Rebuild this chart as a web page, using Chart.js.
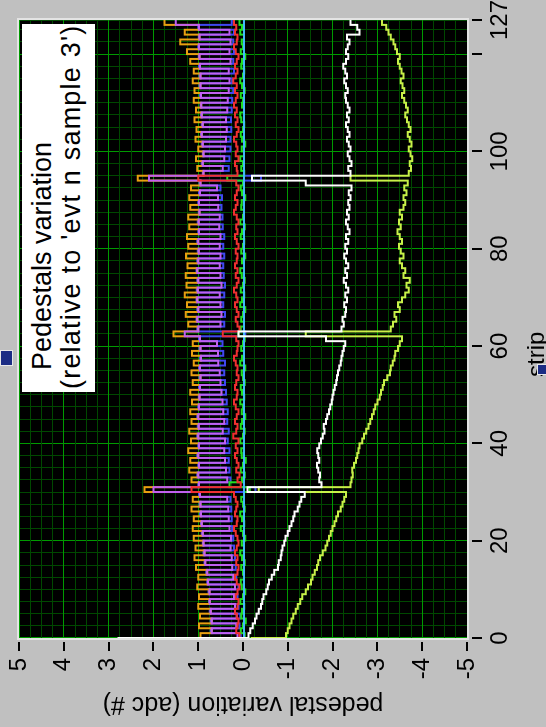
<!DOCTYPE html>
<html>
<head>
<meta charset="utf-8">
<script src="https://cdn.jsdelivr.net/npm/chart.js@4"></script>
<style>
body{margin:0;background:#c0c0c0;overflow:hidden;width:546px;height:727px}
#wrap{position:absolute;left:0;top:0;width:727px;height:546px;transform-origin:0 0;transform:translateY(727px) rotate(-90deg)}
#note{position:absolute;left:335px;top:22px;width:368px;height:73px;background:#fff;box-sizing:border-box;padding:6px 0 0 3px;font:27px "Liberation Sans",Arial,sans-serif;line-height:29px;color:#000;white-space:nowrap}
#note .l1{padding-left:19px}
#note .l2{letter-spacing:1.2px}
#xname{position:absolute;left:350px;top:522px;font:24px "Liberation Sans",Arial,sans-serif;color:#000}
.knob{position:absolute;background:#1c2c84;border:1px solid #e8e8e8}
</style>
</head>
<body>
<div id="wrap">
<canvas id="chart" width="727" height="546"></canvas>
<div id="note"><div class="l1">Pedestals variation</div><div class="l2">(relative to 'evt n sample 3')</div></div>
<div id="xname">strip</div>
</div>
<div class="knob" style="left:0;top:350px;width:11px;height:14px"></div>
<div class="knob" style="left:537px;top:364px;width:10px;height:9px"></div>
<script>
// axis ticks
const stripLabels = [0, 20, 40, 60, 80, 100, 127];
const stripMarks = [0, 20, 40, 60, 80, 100, 120, 127];
const valueLabels = [5, 4, 3, 2, 1, 0, -1, -2, -3, -4, -5];

// pedestal variation per strip (0..127)
const orange = [
0.68,0.95,0.70,0.98,0.70,0.96,0.72,1.00,0.74,0.98,0.75,1.02,0.78,1.00,0.80,1.05,
0.84,1.08,0.86,1.06,0.88,1.10,0.90,1.12,0.92,1.10,0.94,1.15,0.95,1.12,0.96,2.20,
0.98,1.15,1.00,1.20,0.98,1.18,1.00,1.22,0.98,1.16,1.00,1.20,0.99,1.15,1.00,1.18,
0.98,1.14,0.97,1.18,0.96,1.12,0.95,1.15,0.96,1.10,0.94,1.14,0.95,1.12,0.96,1.55,
1.00,1.22,1.02,1.28,1.00,1.25,1.02,1.30,1.01,1.26,1.00,1.28,1.02,1.24,1.00,1.27,
0.99,1.22,1.00,1.25,0.98,1.20,0.99,1.22,0.97,1.18,0.98,1.20,0.96,1.16,0.95,2.35,
0.88,1.02,0.90,1.05,0.88,1.00,0.90,1.06,0.92,1.04,0.90,1.08,0.92,1.05,0.93,1.10,
0.94,1.08,0.95,1.12,0.95,1.10,0.96,1.18,0.97,1.25,0.98,1.40,0.97,1.30,0.98,1.75
];
const purple = [
0.68,0.12,0.70,0.15,0.70,0.14,0.72,0.18,0.74,0.20,0.75,0.18,0.78,0.22,0.80,0.24,
0.84,0.25,0.86,0.28,0.88,0.27,0.90,0.30,0.92,0.32,0.94,0.33,0.95,0.35,0.96,2.00,
0.98,0.35,1.00,0.38,0.98,0.40,1.00,0.42,0.98,0.40,1.00,0.45,0.99,0.42,1.00,0.44,
0.98,0.46,0.97,0.48,0.96,0.50,0.95,0.52,0.96,0.55,0.94,0.56,0.95,0.58,0.96,1.30,
1.00,0.50,1.02,0.48,1.00,0.50,1.02,0.52,1.01,0.48,1.00,0.50,1.02,0.52,1.00,0.50,
0.99,0.52,1.00,0.50,0.98,0.53,0.99,0.52,0.97,0.55,0.98,0.56,0.96,0.58,0.95,2.10,
0.88,0.45,0.90,0.42,0.88,0.40,0.90,0.38,0.92,0.36,0.90,0.38,0.92,0.35,0.93,0.34,
0.94,0.32,0.95,0.30,0.95,0.32,0.96,0.28,0.97,0.30,0.98,0.28,0.97,0.30,0.98,1.50
];
const blue = [
0.70,0.05,0.72,0.08,0.72,0.06,0.74,0.10,0.76,0.12,0.77,0.10,0.80,0.15,0.82,0.16,
0.86,0.18,0.88,0.20,0.90,0.22,0.92,0.24,0.94,0.25,0.96,0.26,0.97,0.28,0.98,-0.28,
1.00,0.28,1.02,0.30,1.00,0.32,1.02,0.30,1.00,0.34,1.02,0.32,1.01,0.35,1.02,0.34,
1.00,0.36,0.99,0.38,0.98,0.40,0.97,0.42,0.98,0.40,0.96,0.44,0.97,0.46,0.98,-0.05,
1.02,0.42,1.04,0.40,1.02,0.44,1.04,0.42,1.03,0.40,1.02,0.43,1.04,0.44,1.02,0.42,
1.01,0.44,1.02,0.42,1.00,0.45,1.01,0.46,0.99,0.48,1.00,0.47,0.98,0.50,0.97,-0.40,
0.90,0.32,0.92,0.30,0.90,0.28,0.92,0.28,0.94,0.26,0.92,0.27,0.94,0.25,0.95,0.24,
0.96,0.22,0.97,0.24,0.97,0.20,0.98,0.22,0.99,0.20,1.00,0.22,0.99,0.20,1.00,0.25
];
const red = [
0.10,0.08,0.15,0.12,0.10,0.14,0.18,0.12,0.10,0.16,0.12,0.08,0.14,0.18,0.12,0.10,
0.15,0.12,0.18,0.14,0.10,0.12,0.16,0.20,0.14,0.12,0.18,0.15,0.12,0.16,0.20,1.15,
0.05,0.12,0.08,0.15,0.10,0.14,0.18,0.12,0.16,0.10,0.22,0.15,0.12,0.18,0.14,0.10,
0.16,0.20,0.14,0.12,0.18,0.15,0.10,0.14,0.12,0.16,0.20,0.14,0.12,0.10,0.15,0.45,
0.08,0.12,0.16,0.10,0.14,0.18,0.12,0.15,0.20,0.14,0.10,0.16,0.12,0.18,0.14,0.12,
0.16,0.10,0.14,0.18,0.12,0.15,0.10,0.14,0.20,0.16,0.12,0.18,0.14,0.10,0.15,1.00,
0.12,0.14,0.18,0.10,0.16,0.12,0.15,0.20,0.14,0.10,0.16,0.12,0.18,0.14,0.20,0.16,
0.12,0.18,0.14,0.22,0.16,0.12,0.18,0.14,0.10,0.16,0.20,0.14,0.12,0.18,0.15,0.20
];
const green = [
0.02,-0.04,0.05,0.00,-0.06,0.04,0.02,-0.03,0.06,0.00,-0.05,0.03,0.05,-0.02,0.00,0.04,
-0.04,0.02,0.06,-0.02,0.03,-0.05,0.00,0.05,-0.03,0.02,0.06,-0.04,0.00,0.04,-0.02,-0.15,
0.30,0.02,-0.04,0.05,0.00,-0.06,0.03,0.04,-0.02,0.06,0.00,-0.04,0.05,0.02,-0.05,0.03,
0.00,0.06,-0.03,0.02,0.05,-0.04,0.00,0.03,-0.05,0.06,0.02,-0.02,0.04,0.00,-0.04,0.10,
0.05,-0.02,0.04,0.00,-0.05,0.06,0.02,-0.03,0.05,0.00,-0.04,0.03,0.06,-0.02,0.02,-0.05,
0.04,0.00,-0.03,0.05,0.02,-0.04,0.06,0.00,-0.02,0.04,0.03,-0.05,0.02,0.05,0.00,0.35,
-0.03,0.04,0.00,0.06,-0.02,0.03,-0.05,0.02,0.05,0.00,-0.03,0.04,0.06,-0.02,0.02,0.00,
0.05,-0.04,0.02,0.06,0.00,-0.03,0.04,0.02,-0.05,0.05,0.00,0.03,-0.02,0.06,0.02,0.08
];
const cyan = [
-0.02,-0.02,-0.02,-0.02,-0.02,-0.02,-0.02,-0.02,-0.02,-0.02,-0.02,-0.02,-0.02,-0.02,-0.02,-0.02,
-0.02,-0.02,-0.02,-0.02,-0.02,-0.02,-0.02,-0.02,-0.02,-0.02,-0.02,-0.02,-0.02,-0.02,-0.02,-0.02,
-0.02,-0.02,-0.02,-0.02,-0.02,-0.02,-0.02,-0.02,-0.02,-0.02,-0.02,-0.02,-0.02,-0.02,-0.02,-0.02,
-0.02,-0.02,-0.02,-0.02,-0.02,-0.02,-0.02,-0.02,-0.02,-0.02,-0.02,-0.02,-0.02,-0.02,-0.02,-0.02,
-0.02,-0.02,-0.02,-0.02,-0.02,-0.02,-0.02,-0.02,-0.02,-0.02,-0.02,-0.02,-0.02,-0.02,-0.02,-0.02,
-0.02,-0.02,-0.02,-0.02,-0.02,-0.02,-0.02,-0.02,-0.02,-0.02,-0.02,-0.02,-0.02,-0.02,-0.02,-0.02,
-0.02,-0.02,-0.02,-0.02,-0.02,-0.02,-0.02,-0.02,-0.02,-0.02,-0.02,-0.02,-0.02,-0.02,-0.02,-0.02,
-0.02,-0.02,-0.02,-0.02,-0.02,-0.02,-0.02,-0.02,-0.02,-0.02,-0.02,-0.02,-0.02,-0.02,-0.02,-0.02
];
const white = [
2.80,-0.12,-0.16,-0.22,-0.27,-0.30,-0.35,-0.40,-0.43,-0.46,-0.52,-0.55,-0.58,-0.64,-0.70,-0.78,
-0.80,-0.84,-0.86,-0.88,-0.92,-0.95,-1.00,-1.04,-1.08,-1.12,-1.15,-1.22,-1.26,-1.30,-1.38,-0.10,
-1.75,-1.70,-1.72,-1.68,-1.65,-1.70,-1.68,-1.66,-1.70,-1.74,-1.78,-1.82,-1.80,-1.85,-1.88,-1.92,
-1.95,-1.98,-2.00,-2.02,-2.05,-2.08,-2.10,-2.12,-2.15,-2.18,-2.20,-2.22,-2.25,-2.28,-1.85,0.10,
-2.20,-2.25,-2.22,-2.28,-2.30,-2.26,-2.32,-2.28,-2.35,-2.30,-2.25,-2.32,-2.28,-2.35,-2.30,-2.26,
-2.32,-2.28,-2.35,-2.30,-2.38,-2.34,-2.30,-2.36,-2.32,-2.38,-2.35,-2.40,-2.36,-2.42,-1.40,-0.20,
-2.40,-2.35,-2.42,-2.38,-2.34,-2.40,-2.36,-2.32,-2.38,-2.34,-2.30,-2.36,-2.32,-2.38,-2.34,-2.30,
-2.28,-2.34,-2.30,-2.26,-2.32,-2.28,-2.24,-2.30,-2.35,-2.30,-2.34,-2.38,-2.32,-2.60,-2.55,-2.40
];
const yellow = [
-0.18,-0.96,-1.00,-1.04,-1.08,-1.12,-1.18,-1.22,-1.28,-1.32,-1.40,-1.45,-1.52,-1.55,-1.60,-1.65,
-1.68,-1.72,-1.78,-1.84,-1.88,-1.92,-1.96,-2.00,-2.04,-2.08,-2.12,-2.18,-2.22,-2.26,-2.30,-0.35,
-2.40,-2.42,-2.45,-2.44,-2.48,-2.52,-2.55,-2.58,-2.60,-2.66,-2.70,-2.75,-2.80,-2.84,-2.88,-2.92,
-2.95,-3.00,-3.05,-3.08,-3.12,-3.15,-3.22,-3.28,-3.30,-3.34,-3.38,-3.40,-3.46,-3.50,-3.55,-1.40,
-3.30,-3.35,-3.42,-3.38,-3.50,-3.46,-3.55,-3.62,-3.70,-3.65,-3.72,-3.58,-3.62,-3.55,-3.50,-3.58,
-3.52,-3.48,-3.55,-3.50,-3.45,-3.52,-3.48,-3.55,-3.50,-3.58,-3.62,-3.58,-3.65,-3.60,-3.68,-2.40,
-3.70,-3.75,-3.72,-3.78,-3.74,-3.70,-3.76,-3.72,-3.68,-3.74,-3.70,-3.66,-3.62,-3.68,-3.64,-3.60,
-3.55,-3.60,-3.56,-3.52,-3.58,-3.54,-3.50,-3.46,-3.50,-3.44,-3.40,-3.36,-3.30,-3.25,-3.20,-3.10
];

const series = [
  {data: white, color: "#ffffff"},
  {data: yellow, color: "#c8f048"},
  {data: cyan, color: "#40b8f8"},
  {data: red, color: "#f03030"},
  {data: green, color: "#20e020"},
  {data: purple, color: "#c060f0"},
  {data: orange, color: "#e8a010"},
  {data: blue, color: "#4048f0"}
];

const font = {family: "'Liberation Sans', Arial, sans-serif", size: 24};

const plotFrame = {
  id: "plotFrame",
  beforeDraw(chart){
    const {ctx, chartArea: a} = chart;
    ctx.save();
    ctx.fillStyle = "#000";
    ctx.fillRect(a.left, a.top, a.width, a.height);
    ctx.restore();
  },
  afterDraw(chart){
    const {ctx, chartArea: a, scales} = chart;
    ctx.save();
    ctx.strokeStyle = "#e4e4e4";
    ctx.lineWidth = 2;
    ctx.strokeRect(a.left - 1, a.top - 1, a.width + 2, a.height + 2);
    ctx.strokeStyle = "#000";
    ctx.lineWidth = 2;
    ctx.beginPath();
    stripMarks.forEach(s=>{
      const x = Math.round(scales.x.getPixelForValue(s));
      ctx.moveTo(x, a.bottom + 5);
      ctx.lineTo(x, a.bottom + 15);
    });
    valueLabels.forEach(v=>{
      const y = Math.round(scales.y.getPixelForValue(v));
      ctx.moveTo(a.left - 13, y);
      ctx.lineTo(a.left - 4, y);
    });
    ctx.stroke();
    ctx.restore();
  }
};

new Chart(document.getElementById("chart"), {
  type: "line",
  data: {
    datasets: series.map(s=>({
      data: s.data.map((v,i)=>({x: i, y: v})),
      borderColor: s.color,
      borderWidth: 2,
      pointRadius: 0,
      stepped: "after",
      fill: false
    }))
  },
  options: {
    responsive: false,
    animation: false,
    devicePixelRatio: 1,
    layout: {padding: {top: 19, right: 20, left: 0, bottom: 0}},
    plugins: {legend: {display: false}, tooltip: {enabled: false}},
    scales: {
      x: {
        type: "linear",
        min: 0,
        max: 127,
        afterBuildTicks(scale){
          const t = [];
          for (let v = 0; v <= 125; v += 2.5) t.push({value: v});
          t.push({value: 127});
          scale.ticks = t;
        },
        afterFit(scale){ scale.height = 79; },
        ticks: {
          autoSkip: false,
          maxRotation: 0,
          padding: 0,
          color: "#000",
          font: font,
          callback: v => stripLabels.includes(v) ? String(v) : ""
        },
        grid: {
          drawTicks: true,
          tickLength: 19,
          tickColor: "rgba(0,0,0,0)",
          lineWidth: 1,
          color: c => (c.tick && c.tick.value % 20 === 0) ? "#009a00" : "#004800"
        },
        border: {display: false}
      },
      y: {
        type: "linear",
        min: -5,
        max: 5,
        afterBuildTicks(scale){
          const t = [];
          for (let v = -5; v <= 5; v += 0.25) t.push({value: v});
          scale.ticks = t;
        },
        afterFit(scale){ scale.width = 89; },
        ticks: {
          autoSkip: false,
          padding: 0,
          color: "#000",
          font: font,
          callback: v => valueLabels.includes(v) ? String(v) : ""
        },
        grid: {
          drawTicks: true,
          tickLength: 20,
          tickColor: "rgba(0,0,0,0)",
          lineWidth: 1,
          color: c => (c.tick && Number.isInteger(c.tick.value)) ? "#009a00" : "#004800"
        },
        border: {display: false},
        title: {
          display: true,
          text: "pedestal variation (adc #)",
          color: "#000",
          font: {family: "'Liberation Sans', Arial, sans-serif", size: 25},
          padding: {top: 8, bottom: 0}
        }
      }
    }
  },
  plugins: [plotFrame]
});
</script>
</body>
</html>
